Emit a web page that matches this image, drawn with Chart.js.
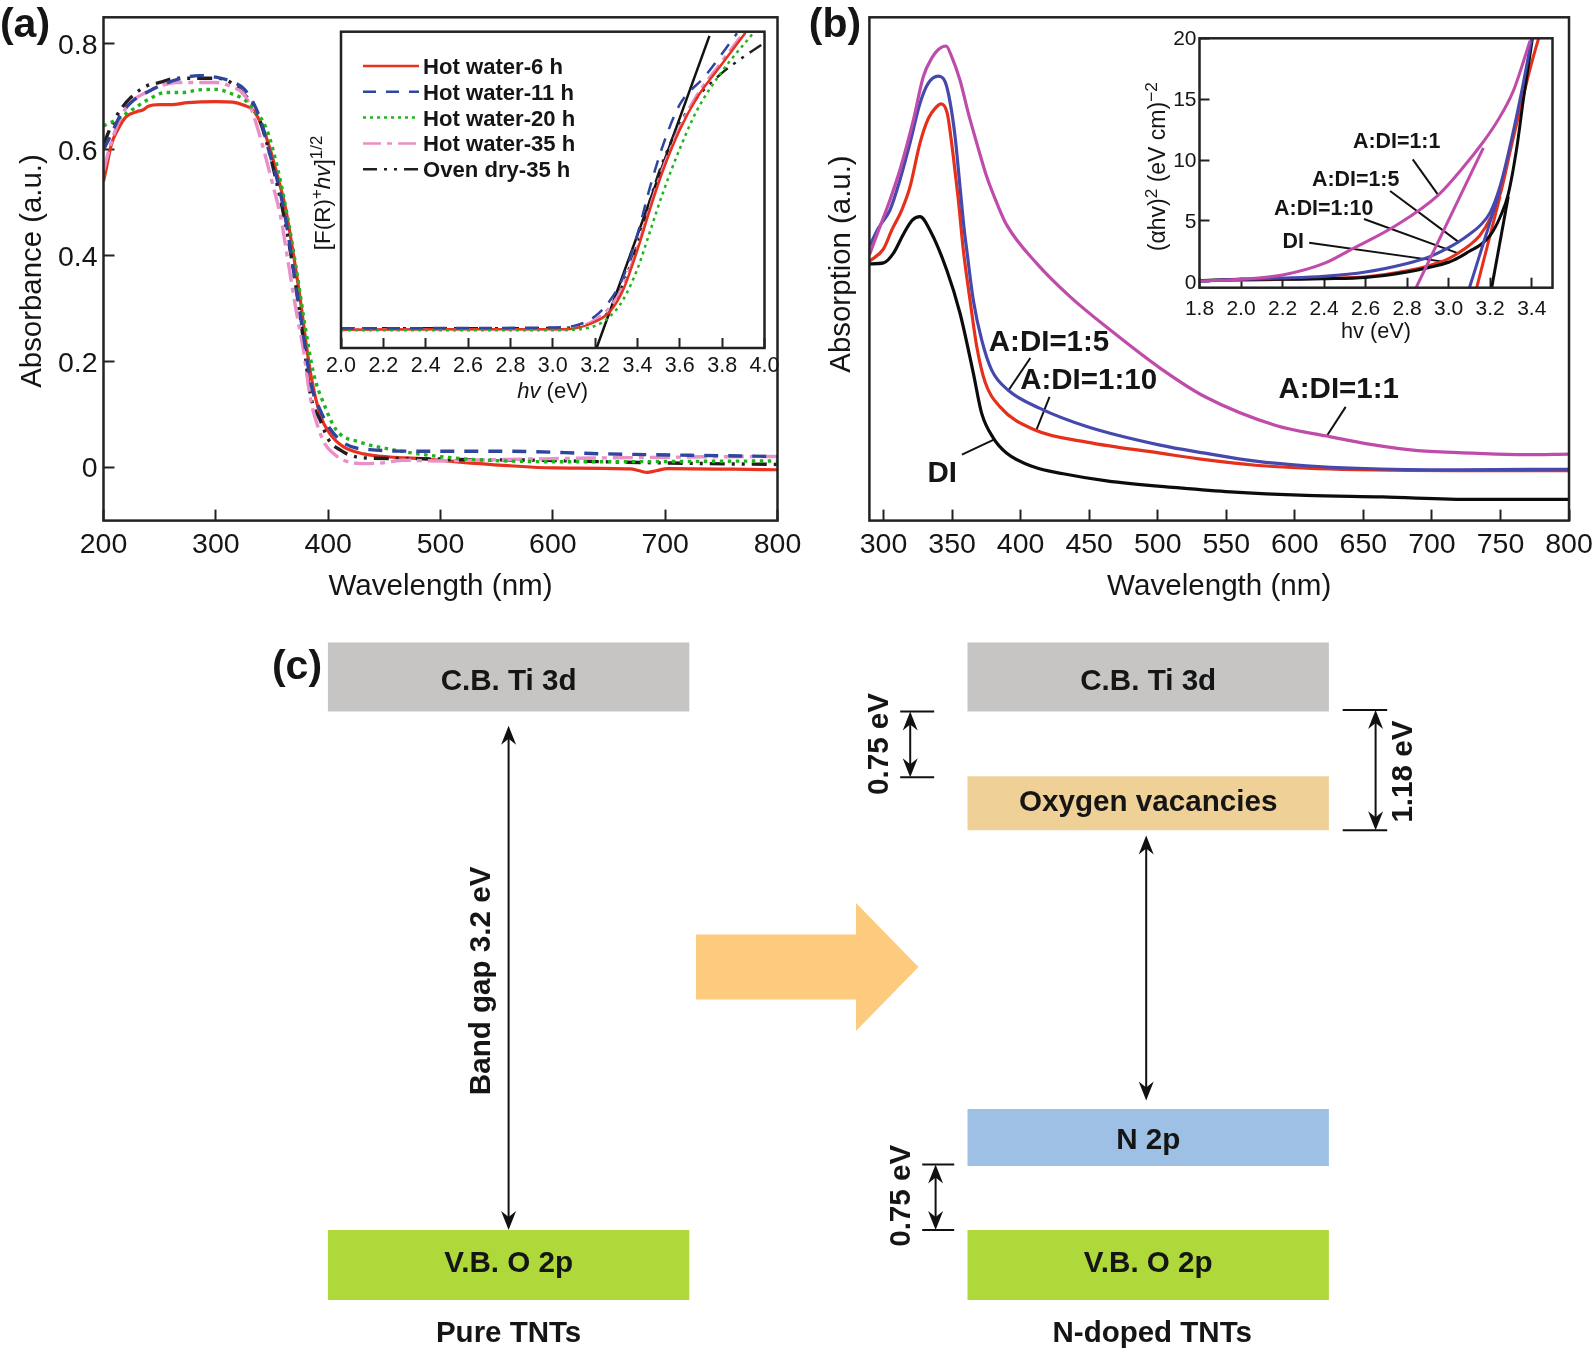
<!DOCTYPE html>
<html>
<head>
<meta charset="utf-8">
<title>TNT absorption and band structure</title>
<script src="https://cdn.jsdelivr.net/npm/chart.js@4"></script>
<style>
  body { margin: 0; background: #fff; width: 1594px; height: 1353px; overflow: hidden; }
  canvas { position: absolute; }
</style>
</head>
<body>
<canvas id="levels" width="1594" height="753" style="left:0;top:600px"></canvas>
<canvas id="panelA" width="830" height="610" style="left:0;top:0"></canvas>
<canvas id="panelB" width="794" height="610" style="left:800px;top:0"></canvas>
<canvas id="insetA" width="505" height="390" style="left:290px;top:20px"></canvas>
<canvas id="insetB" width="440" height="340" style="left:1130px;top:20px"></canvas>
<script>
// (a) main plot
const a6hX = [200,203,207,212,220,230,235,240,250,260,275,300,315,325,333,340,347,355,362,370,375,380,385,393,401.5,413.7,431.5,455,482,514.5,556,601,669,677,684,692,702,760,800];
const a6hY = [0.54,0.57,0.61,0.635,0.662,0.672,0.675,0.682,0.685,0.685,0.689,0.691,0.69,0.684,0.675,0.65,0.61,0.55,0.49,0.39,0.32,0.24,0.17,0.099,0.064,0.039,0.026,0.02,0.017,0.011,0.0044,-0.0006,-0.0025,-0.006,-0.009,-0.006,-0.002,-0.003,-0.004];
const a11hX = [200,207,215,225,240,255,270,285,300,315,325,333,340,347,355,362,370,378,385,393,401.5,415,437,482,556,646,800];
const a11hY = [0.6,0.63,0.665,0.69,0.71,0.725,0.735,0.74,0.737,0.728,0.715,0.69,0.655,0.6,0.54,0.47,0.36,0.25,0.155,0.108,0.074,0.045,0.034,0.031,0.031,0.026,0.021];
const a20hX = [200,210,225,240,255,270,285,300,315,325,333,345,355,365,372,380,387,396,407.7,428.5,452,490.8,532,615,800];
const a20hY = [0.645,0.655,0.675,0.695,0.708,0.708,0.713,0.714,0.705,0.695,0.678,0.64,0.565,0.46,0.37,0.26,0.178,0.121,0.07,0.048,0.036,0.023,0.015,0.011,0.0126];
const a35hX = [200,205,212,222,235,250,265,280,300,315,325,332,340,350,358,365,372,378,384,390,397,405,413.7,431.5,449,467,497,527,601,675,793,800];
const a35hY = [0.56,0.6,0.645,0.685,0.705,0.72,0.727,0.727,0.727,0.718,0.705,0.675,0.62,0.54,0.47,0.38,0.29,0.222,0.133,0.083,0.045,0.026,0.014,0.0076,0.009,0.014,0.0126,0.014,0.017,0.019,0.021,0.021];
const aOvenX = [200,207,215,225,238,250,265,285,300,315,325,333,340,347,355,362,370,378,384,393,400.6,411,420,435,476.6,527,586.6,646,735,800];
const aOvenY = [0.61,0.645,0.675,0.7,0.72,0.727,0.735,0.735,0.735,0.725,0.705,0.685,0.65,0.6,0.53,0.46,0.36,0.24,0.14,0.089,0.052,0.033,0.023,0.018,0.017,0.015,0.014,0.011,0.0076,0.006];
const aTicksX = [200,300,400,500,600,700,800];
const aTicksY = [0,0.2,0.4,0.6,0.8];

// (a) inset
const legendNames = ['Hot water-6 h','Hot water-11 h','Hot water-20 h','Hot water-35 h','Oven dry-35 h'];
const ia6hX = [2,2.5,3,3.1,3.2,3.27,3.33,3.4,3.46,3.52,3.6,3.68,3.79,3.91];
const ia6hY = [5.8,5.9,5.9,6.2,8.3,11.5,18,31,44,56,69,79,89,99.7];
const ia11hX = [2,2.5,3,3.1,3.2,3.27,3.33,3.4,3.46,3.52,3.6,3.72,3.87];
const ia11hY = [6.2,6.3,6.5,7,10,15,22,36,51,64,77,86,99.5];
const ia20hX = [2,3,3.1,3.2,3.27,3.33,3.4,3.46,3.52,3.6,3.68,3.8,3.95];
const ia20hY = [5.6,5.6,5.8,7,10,15,25,37,49,63,75,87.5,99.8];
const ia35hX = [2,3,3.1,3.2,3.27,3.33,3.4,3.46,3.52,3.6,3.68,3.79,3.9];
const ia35hY = [5.9,5.9,6.3,9,13,19.5,32,45,57,70,80,90,99.7];
const iaOvenX = [2,3,3.1,3.2,3.27,3.33,3.4,3.46,3.52,3.6,3.68,3.8,3.9,4];
const iaOvenY = [6.2,6.3,6.6,8.5,12,20,33,47,59,71,79,87,92,96.5];
const iaTangentX = [3.207,3.74];
const iaTangentY = [0,98.7];
const iaTicksX = [2,2.2,2.4,2.6,2.8,3,3.2,3.4,3.6,3.8,4];

// (b) main plot, arbitrary absorption units
const b11X = [289.7,297.4,304.7,312,321.8,329,335.2,340,345.6,349.7,355.8,361.9,368,375.3,383.7,389.9,411.7,436,465.2,501.7,534.5,586.2,623,656.4,689.6,730,767,800];
const b11Y = [52.8,58.4,63.7,69.7,79.6,88.2,91.9,93.6,94.3,92.2,87.5,80.9,75,68.3,62.4,58.7,51.1,44.5,37.9,30.3,24.6,18.9,16.8,15.1,13.9,13.4,13.1,13.2];
const b15X = [289.7,296.2,304.7,312,319.3,326.6,332.7,340,344.9,348.5,352.2,355.8,358.9,360.7,365.5,371.6,378.9,391,414.1,448.2,501.7,534.5,571.4,608.3,645.3,719,800];
const b15Y = [54.5,58.1,61.7,67.7,75,82.9,86.9,88.3,87.2,83.2,76.3,66.3,57.7,53.8,43.8,35.9,29.9,25.9,22.3,18.7,15,13.4,11.8,10.9,10.4,10.1,10.2];
const b110X = [289.7,300,306,313.3,319.3,326.6,332.7,337.6,342,346.5,349.7,352.9,354.6,358.2,363.1,368,374,385,410.5,448.2,501.7,534.5,571.4,608.3,645.3,719,800];
const b110Y = [51.5,54,57.7,61.7,66.3,75,79.9,81.9,82.8,80.9,75,67.7,63.7,53.8,43.8,34.6,27.6,22.6,18,15.6,13.4,12.1,11,10.4,10.1,9.9,9.9];
const bDiX = [289.7,300,307.4,314.7,321,326.6,333.9,346.1,355.8,365.5,371.6,380.1,389.9,409.3,431.1,462.8,516,553,608.3,663.7,730,800];
const bDiY = [51,51.2,53.2,57,59.7,60.4,57.7,49.8,41.2,29.3,21.3,16.4,13.4,10.7,9.3,7.9,6.5,5.7,5,4.7,4.2,4.2];
const bTicksX = [300,350,400,450,500,550,600,650,700,750,800];
// leader lines from the labels to the curves
const bLead15X = [407.1,391.2], bLead15Y = [32.3,25.9];
const bLead110X = [421.1,411.5], bLead110Y = [24.6,18];
const bLead11X = [637.1,623.1], bLead11Y = [22.6,16.7];
const bLeadDiX = [357.2,380.5], bLeadDiY = [13.1,16.1];

// (b) inset
const ib11X = [1.8,2,2.2,2.4,2.525,2.75,2.95,3.07,3.167,3.231,3.312,3.392];
const ib11Y = [0.05,0.2,0.55,1.5,2.6,4.66,7.12,9.4,11.5,13.1,15.7,19.8];
const ib15X = [1.8,2,2.2,2.4,2.6,2.8,2.9,3,3.05,3.1,3.15,3.2,3.25,3.3,3.35,3.4];
const ib15Y = [0.05,0.2,0.3,0.45,0.8,1.5,2,2.8,3.3,3.9,4.6,5.7,8,11.5,15.5,20];
const ib110X = [1.85,2,2.2,2.4,2.6,2.8,2.9,3,3.05,3.1,3.15,3.2,3.25,3.3,3.35,3.4,3.44];
const ib110Y = [0.1,0.12,0.2,0.28,0.4,0.9,1.3,1.9,2.4,3,3.8,5.2,7.3,11,14.6,18,20.4];
const ibDiX = [1.8,2,2.2,2.4,2.6,2.8,2.9,3,3.05,3.1,3.15,3.2,3.25,3.287,3.328,3.36,3.405];
const ibDiY = [0.1,0.2,0.2,0.25,0.35,0.8,1.15,1.6,2,2.5,3,3.8,5.4,7.2,11,15,20.2];
const ibTan11X = [2.843,3.167], ibTan11Y = [-0.49,11];
const ibTan15X = [3.1,3.247], ibTan15Y = [-0.49,7.5];
const ibTan110X = [3.135,3.247], ibTan110Y = [-0.49,7];
const ibTanDiX = [3.207,3.287], ibTanDiY = [-0.49,7];
const ibLead11X = [2.827,2.95], ibLead11Y = [10.05,7.12];
const ibLead15X = [2.718,3.052], ibLead15Y = [7.45,3.21];
const ibLead110X = [2.592,3.047], ibLead110Y = [5.15,2.33];
const ibLeadDiX = [2.328,2.999], ibLeadDiY = [3.21,1.59];
const ibTicksX = [1.8,2,2.2,2.4,2.6,2.8,3,3.2,3.4];
const ibTicksY = [0,5,10,15,20];

// (c) energy levels in eV above the valence band (schematic, not to scale)
const samples = ['Pure TNTs','N-doped TNTs'];
const levelNames = ['C.B. Ti 3d','Oxygen vacancies','N 2p','V.B. O 2p'];
const cbBand = [[3.2,3.627],[3.2,3.627]];
const oxygenBand = [null,[2.466,2.8]];
const n2pBand = [null,[0.395,0.747]];
const vbBand = [[-0.432,0],[-0.432,0]];
const gapPure = [3.112,0];
const gapDoped = [2.434,0.799];
const gapOxygen = [3.2,2.793];
const gapOxygenTotal = [3.209,2.466];
const gapNitrogen = [0.404,0];

const FONT = '"Liberation Sans", Arial, sans-serif';
const INK = '#151515';
Chart.defaults.font.family = FONT;
Chart.defaults.color = INK;
Chart.defaults.animation = false;
Chart.defaults.responsive = false;
Chart.defaults.plugins.legend.display = false;
Chart.defaults.plugins.tooltip.enabled = false;

const zip = (xs, ys) => xs.map((x, i) => ({ x, y: ys[i] }));
const curve = (xs, ys, color, width, dash) => ({
  data: zip(xs, ys), borderColor: color, borderWidth: width, borderDash: dash || [],
  pointRadius: 0, cubicInterpolationMode: 'monotone',
});
const straight = (xs, ys, color, width) => ({
  data: zip(xs, ys), borderColor: color, borderWidth: width, pointRadius: 0, tension: 0,
});

function text(ctx, str, x, y, font, rot) {
  ctx.save();
  ctx.translate(x, y);
  if (rot) ctx.rotate(rot);
  ctx.font = font;
  ctx.fillStyle = INK;
  ctx.textAlign = 'center';
  ctx.textBaseline = 'middle';
  ctx.fillText(str, 0, 0);
  ctx.restore();
}

// mixed italic / superscript labels, which the axis title cannot do
function richText(ctx, segs, x, y, size, rot) {
  ctx.save();
  ctx.translate(x, y);
  if (rot) ctx.rotate(rot);
  ctx.fillStyle = INK;
  ctx.textAlign = 'left';
  ctx.textBaseline = 'middle';
  const fontOf = s => (s.it ? 'italic ' : '') + (s.sup ? size * 0.75 : size) + 'px ' + FONT;
  let total = 0;
  segs.forEach(s => { ctx.font = fontOf(s); total += ctx.measureText(s.t).width; });
  let cx = -total / 2;
  segs.forEach(s => {
    ctx.font = fontOf(s);
    ctx.fillText(s.t, cx, s.sup ? -size * 0.3 : 0);
    cx += ctx.measureText(s.t).width;
  });
  ctx.restore();
}

const framePlugin = {
  id: 'frame',
  afterDatasetsDraw(chart) {
    const { ctx, chartArea: c } = chart;
    ctx.save();
    ctx.strokeStyle = '#222';
    ctx.lineWidth = 2.5;
    ctx.strokeRect(c.left, c.top, c.right - c.left, c.bottom - c.top);
    ctx.restore();
  },
};

// keep the plot box where it is in the figure, labels may overhang it
const pinBox = s => { s.paddingLeft = s.paddingRight = s.paddingTop = s.paddingBottom = 0; };

const xAxis = (min, max, ticks, format, size, tick, height, pad, title, titleSize, titlePad) => ({
  type: 'linear', min, max,
  afterBuildTicks: s => { s.ticks = ticks.map(value => ({ value })); },
  afterFit: s => { s.height = height; pinBox(s); },
  grid: { drawOnChartArea: false, tickLength: -tick, tickWidth: 2, tickColor: '#222' },
  border: { display: false },
  ticks: { font: { size }, padding: pad, autoSkip: false, maxRotation: 0, minRotation: 0, callback: format, color: INK },
  title: title ? { display: true, text: title, font: { size: titleSize }, padding: titlePad, color: INK } : { display: false },
});
const fixed1 = v => v.toFixed(1);

new Chart(document.getElementById('panelA'), {
  type: 'line',
  data: { datasets: [
    curve(a11hX, a11hY, '#2f469e', 3.4, [14, 10]),
    curve(a20hX, a20hY, '#22b41e', 3.4, [3.5, 4.5]),
    curve(a35hX, a35hY, '#ea90c9', 3.4, [20, 6, 5, 6]),
    curve(aOvenX, aOvenY, '#231f20', 3.4, [15, 7, 3, 7, 3, 7]),
    curve(a6hX, a6hY, '#e6321e', 3.2),
  ] },
  options: {
    layout: { padding: { top: 17.3, right: 52.5 } },
    scales: {
      x: xAxis(200, 800, aTicksX, v => String(v), 28.5, 11, 89.4, 18, 'Wavelength (nm)', 29.6, { top: 0, bottom: 5 }),
      y: {
        type: 'linear', min: -0.1, max: 0.85,
        afterBuildTicks: s => { s.ticks = aTicksY.map(value => ({ value })); },
        afterFit: s => { s.width = 103.5; pinBox(s); },
        grid: { drawOnChartArea: false, tickLength: -11, tickWidth: 2, tickColor: '#222' },
        border: { display: false },
        ticks: { font: { size: 28.5 }, padding: 17, labelOffset: 2, callback: v => (v === 0 ? '0' : v.toFixed(1)), color: INK },
      },
    },
  },
  plugins: [framePlugin, { id: 'labelsA', afterDraw(chart) {
    text(chart.ctx, '(a)', 25, 26, 'bold 41px ' + FONT);
    text(chart.ctx, 'Absorbance (a.u.)', 33, 271, '29.4px ' + FONT, -Math.PI / 2);
  } }],
});

new Chart(document.getElementById('insetA'), {
  type: 'line',
  data: { datasets: [
    curve(ia11hX, ia11hY, '#2f469e', 2.5, [13, 10]),
    curve(ia20hX, ia20hY, '#22b41e', 2.5, [3, 4]),
    curve(ia6hX, ia6hY, '#e6321e', 2.5),
    curve(ia35hX, ia35hY, '#ea90c9', 2.5, [18, 6, 5, 6]),
    curve(iaOvenX, iaOvenY, '#231f20', 2.5, [14, 7, 3, 7, 3, 7]),
    straight(iaTangentX, iaTangentY, '#111', 2.5),
  ] },
  options: {
    layout: { padding: { top: 11.7, left: 51, right: 30.5 } },
    scales: {
      x: xAxis(2, 4, iaTicksX, fixed1, 21.5, 10, 62, 15),
      y: { type: 'linear', min: 0, max: 100, display: false },
    },
  },
  plugins: [framePlugin, { id: 'insetText', afterDraw(chart) {
    const { ctx } = chart;
    // legend order differs from the drawing order of the datasets
    const rows = [2, 0, 1, 3, 4];
    rows.forEach((d, i) => {
      const set = chart.data.datasets[d];
      const y = 46 + i * 25.8;
      ctx.save();
      ctx.strokeStyle = set.borderColor;
      ctx.lineWidth = 2.5;
      ctx.setLineDash(set.borderDash);
      ctx.beginPath();
      ctx.moveTo(73, y);
      ctx.lineTo(129, y);
      ctx.stroke();
      ctx.restore();
      ctx.font = 'bold 22.1px ' + FONT;
      ctx.fillStyle = INK;
      ctx.textAlign = 'left';
      ctx.textBaseline = 'middle';
      ctx.fillText(legendNames[i], 133, y + 2);
    });
    richText(ctx, [{ t: 'hv', it: true }, { t: ' (eV)' }], 262.7, 371.5, 22);
    richText(ctx, [{ t: '[F(R)' }, { t: '+', sup: true }, { t: 'hv', it: true }, { t: ']' }, { t: '1/2', sup: true }], 34, 173, 22.5, -Math.PI / 2);
  } }],
});

new Chart(document.getElementById('panelB'), {
  type: 'line',
  data: { datasets: [
    curve(b11X, b11Y, '#bf4bab', 3.2),
    curve(b15X, b15Y, '#4548ac', 3.2),
    curve(bDiX, bDiY, '#0c0c0c', 3.2),
    curve(b110X, b110Y, '#e5301c', 3.2),
    straight(bLead15X, bLead15Y, '#111', 2),
    straight(bLead110X, bLead110Y, '#111', 2),
    straight(bLead11X, bLead11Y, '#111', 2),
    straight(bLeadDiX, bLeadDiY, '#111', 2),
  ] },
  options: {
    layout: { padding: { top: 17.3, right: 25 } },
    scales: {
      x: xAxis(289.7, 800, bTicksX, v => String(v), 28.5, 11, 89.4, 18, 'Wavelength (nm)', 29.6, { top: 0, bottom: 5 }),
      y: {
        type: 'linear', min: 0, max: 100,
        afterFit: s => { s.width = 69.4; pinBox(s); },
        grid: { display: false },
        border: { display: false },
        ticks: { display: false },
      },
    },
  },
  plugins: [framePlugin, { id: 'labelsB', afterDraw(chart) {
    const { ctx } = chart;
    const bold = 'bold 29.5px ' + FONT;
    text(ctx, 'A:DI=1:5', 249, 342.4, bold);
    text(ctx, 'A:DI=1:10', 288.6, 380.4, bold);
    text(ctx, 'A:DI=1:1', 538.7, 390, bold);
    text(ctx, 'DI', 142.3, 473.8, bold);
    text(ctx, '(b)', 35, 26, 'bold 41px ' + FONT);
    text(ctx, 'Absorption (a.u.)', 42, 264, '29.4px ' + FONT, -Math.PI / 2);
  } }],
});

new Chart(document.getElementById('insetB'), {
  type: 'line',
  data: { datasets: [
    curve(ib11X, ib11Y, '#bf4bab', 3),
    straight(ibTan11X, ibTan11Y, '#bf4bab', 3),
    curve(ib15X, ib15Y, '#4548ac', 3),
    straight(ibTan15X, ibTan15Y, '#4548ac', 3),
    curve(ibDiX, ibDiY, '#0c0c0c', 3),
    straight(ibTanDiX, ibTanDiY, '#0c0c0c', 3),
    curve(ib110X, ib110Y, '#e5301c', 3),
    straight(ibTan110X, ibTan110Y, '#e5301c', 3),
    straight(ibLead11X, ibLead11Y, '#111', 2),
    straight(ibLead15X, ibLead15Y, '#111', 2),
    straight(ibLead110X, ibLead110Y, '#111', 2),
    straight(ibLeadDiX, ibLeadDiY, '#111', 2),
  ] },
  options: {
    layout: { padding: { top: 18.3, right: 17.5 } },
    scales: {
      x: xAxis(1.8, 3.5, ibTicksX, fixed1, 21, 10, 72.3, 18.8, 'hv (eV)', 21.7, { top: 0, bottom: 15 }),
      y: {
        type: 'linear', min: -0.49, max: 20,
        afterBuildTicks: s => { s.ticks = ibTicksY.map(value => ({ value })); },
        afterFit: s => { s.width = 69.5; pinBox(s); },
        grid: { drawOnChartArea: false, tickLength: -10, tickWidth: 2, tickColor: '#222' },
        border: { display: false },
        ticks: { font: { size: 21 }, padding: 13, labelOffset: 1, color: INK },
      },
    },
  },
  plugins: [framePlugin, { id: 'labelsIB', afterDraw(chart) {
    const { ctx } = chart;
    const bold = 'bold 21.4px ' + FONT;
    text(ctx, 'A:DI=1:1', 266.7, 121.7, bold);
    text(ctx, 'A:DI=1:5', 225.7, 160, bold);
    text(ctx, 'A:DI=1:10', 193.7, 189.3, bold);
    text(ctx, 'DI', 163.3, 221.7, bold);
    richText(ctx, [{ t: '(αhv)' }, { t: '2', sup: true }, { t: ' (eV cm)' }, { t: '−2', sup: true }], 29, 146.7, 23, -Math.PI / 2);
  } }],
});

function doubleArrow(ctx, x, y1, y2) {
  const head = (tipY, dir) => {
    ctx.beginPath();
    ctx.moveTo(x, tipY);
    ctx.lineTo(x - 7.5, tipY + dir * 19);
    ctx.lineTo(x, tipY + dir * 13);
    ctx.lineTo(x + 7.5, tipY + dir * 19);
    ctx.closePath();
    ctx.fill();
  };
  ctx.beginPath();
  ctx.moveTo(x, y1 + 6);
  ctx.lineTo(x, y2 - 6);
  ctx.stroke();
  head(y1, 1);
  head(y2, -1);
}

new Chart(document.getElementById('levels'), {
  type: 'bar',
  data: {
    labels: samples,
    datasets: [
      { label: levelNames[0], data: cbBand, backgroundColor: '#c6c5c3' },
      { label: levelNames[1], data: oxygenBand, backgroundColor: '#efd097' },
      { label: levelNames[2], data: n2pBand, backgroundColor: '#9fc0e5' },
      { label: levelNames[3], data: vbBand, backgroundColor: '#afd83b' },
    ],
  },
  options: {
    layout: { padding: { left: 188.8, right: 126, top: 42.2, bottom: 53 } },
    grouped: false,
    barPercentage: 0.565,
    categoryPercentage: 1,
    scales: {
      x: { type: 'category', display: false },
      y: { type: 'linear', min: -0.432, max: 3.627, display: false },
    },
  },
  plugins: [{ id: 'schema', afterDraw(chart) {
    const { ctx, scales: { x, y } } = chart;
    const bold = 'bold 29.6px ' + FONT;
    const yShift = [5, 0, 3, -1];
    chart.data.datasets.forEach((set, d) => {
      chart.getDatasetMeta(d).data.forEach((bar, i) => {
        if (!set.data[i]) return;
        const mid = y.getPixelForValue((set.data[i][0] + set.data[i][1]) / 2);
        text(ctx, set.label, x.getPixelForValue(i), mid + yShift[d], bold);
      });
    });
    text(ctx, samples[0], x.getPixelForValue(0), 733.8, 'bold 29.5px ' + FONT);
    text(ctx, samples[1], x.getPixelForValue(1) + 4, 733.8, 'bold 29.5px ' + FONT);
    text(ctx, '(c)', 297, 68, 'bold 41px ' + FONT);

    ctx.save();
    ctx.strokeStyle = '#111';
    ctx.fillStyle = '#111';
    ctx.lineWidth = 2;
    const px = v => y.getPixelForValue(v);
    const c0 = x.getPixelForValue(0), c1 = x.getPixelForValue(1);
    doubleArrow(ctx, c0, px(gapPure[0]), px(gapPure[1]));
    doubleArrow(ctx, c1 - 2, px(gapDoped[0]), px(gapDoped[1]));
    doubleArrow(ctx, c1 - 238, px(gapOxygen[0]), px(gapOxygen[1]));
    doubleArrow(ctx, c1 + 227.4, px(gapOxygenTotal[0]), px(gapOxygenTotal[1]));
    doubleArrow(ctx, c1 - 212.6, px(gapNitrogen[0]), px(gapNitrogen[1]));
    const bracket = (v, from, to) => {
      ctx.beginPath();
      ctx.moveTo(c1 + from, px(v));
      ctx.lineTo(c1 + to, px(v));
      ctx.stroke();
    };
    gapOxygen.forEach(v => bracket(v, -248, -214));
    gapOxygenTotal.forEach(v => bracket(v, 194.5, 239));
    gapNitrogen.forEach(v => bracket(v, -226, -194));
    ctx.restore();

    const up = -Math.PI / 2;
    text(ctx, 'Band gap 3.2 eV', 482, 380.9, bold, up);
    text(ctx, '0.75 eV', 879.5, 144, bold, up);
    text(ctx, '1.18 eV', 1404, 171.6, bold, up);
    text(ctx, '0.75 eV', 902.3, 595.8, bold, up);

    // big arrow between the two level schemes
    ctx.fillStyle = '#fdcb7e';
    ctx.beginPath();
    ctx.moveTo(696, 334.6);
    ctx.lineTo(856, 334.6);
    ctx.lineTo(856, 303);
    ctx.lineTo(918.5, 367);
    ctx.lineTo(856, 431);
    ctx.lineTo(856, 399.6);
    ctx.lineTo(696, 399.6);
    ctx.closePath();
    ctx.fill();
  } }],
});
</script>
</body>
</html>
